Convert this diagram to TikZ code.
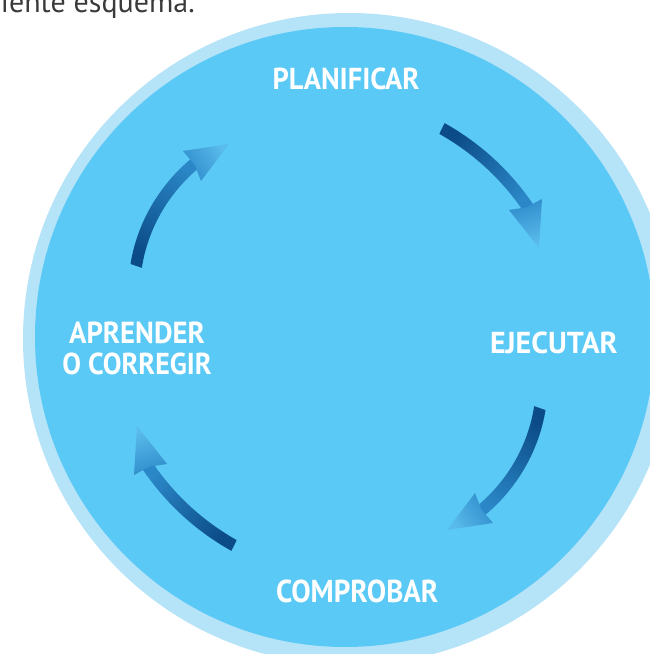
\documentclass[tikz,border=0pt]{standalone}
\usepackage{fontspec}
\usepackage{graphicx}
\setmainfont{PT Sans}
\definecolor{ringblue}{HTML}{B5E3F8}
\definecolor{discblue}{HTML}{5BC9F5}
\definecolor{adark}{HTML}{0B4B87}
\definecolor{amid}{HTML}{2B87C7}
\definecolor{hback}{HTML}{2F8CCB}
\definecolor{htip}{HTML}{5ABCEC}
\definecolor{toptext}{HTML}{3A3A3A}
% shaft: tail angle, end angle, tail radius, end radius, shading angle
\newcommand\cycshaft[5]{%
  \shade[top color=adark, bottom color=amid, shading angle=#5]
    plot[domain=0:1, samples=30, variable=\pp] ({(#1)+((#2)-(#1))*\pp}:{(#3)+((#4)-(#3))*(1-(1-\pp)^2)+6})
    -- plot[domain=1:0, samples=30, variable=\pp] ({(#1)+((#2)-(#1))*\pp}:{(#3)+((#4)-(#3))*(1-(1-\pp)^2)-6})
    -- cycle;}
% head: barb A, barb B, tip, notch, shading angle
\newcommand\cychead[5]{%
  \shade[top color=hback, bottom color=htip, shading angle=#5] #1 -- #3 -- #2 -- #4 -- cycle;}
\tikzset{lbl/.style={text=white, inner sep=0pt, font=\bfseries}}
\begin{document}
\begin{tikzpicture}[x=1pt,y=1pt]
\useasboundingbox (0,0) rectangle (649,654);
\fill[white] (0,0) rectangle (649,654);
% disc
\fill[ringblue] (349,315) circle (326);
\fill[discblue] (345,317) circle (310);
% intro text (cut at the top and left, as in the reference)
\node[anchor=base east, text=toptext, inner sep=0pt, font=\fontsize{30}{34}\selectfont] (intro) at (195,641.5) {uiente esquema.};
% arrows
\begin{scope}[shift={(338,317)}]
  \cycshaft{63.5}{33.5}{233}{230}{48}
  \cycshaft{-19.4}{-51.5}{214}{225}{-29.2}
  \cycshaft{243.5}{213.5}{233}{230}{228}
  \cycshaft{160.6}{128.5}{214}{225}{150.8}
\end{scope}
\cychead{(509,444)}{(542,455)}{(539,406)}{(526.4,446.6)}{17}
\cychead{(475,161)}{(493,131)}{(447,124)}{(481.4,144.5)}{-59.3}
\cychead{(167,190)}{(134,179)}{(137,228)}{(149.6,187.4)}{197}
\cychead{(201,473)}{(183,503)}{(229,510)}{(194.6,489.5)}{120.7}
% labels
\node[lbl] (plan) at (346,575) {\resizebox{146.7pt}{21.6pt}{PLANIFICAR}};
\node[lbl] (ejec) at (553.9,311.5) {\resizebox{127.7pt}{21.6pt}{EJECUTAR}};
\node[lbl] (comp) at (357.2,63) {\resizebox{162.3pt}{22.6pt}{COMPROBAR}};
\node[lbl, align=center, font=\bfseries\fontsize{30}{31.7}\selectfont] (apre) at (137,305.65)
  {\resizebox{135.7pt}{21.6pt}{APRENDER}\\\resizebox{149.4pt}{21.6pt}{O CORREGIR}};
\end{tikzpicture}
\end{document}
